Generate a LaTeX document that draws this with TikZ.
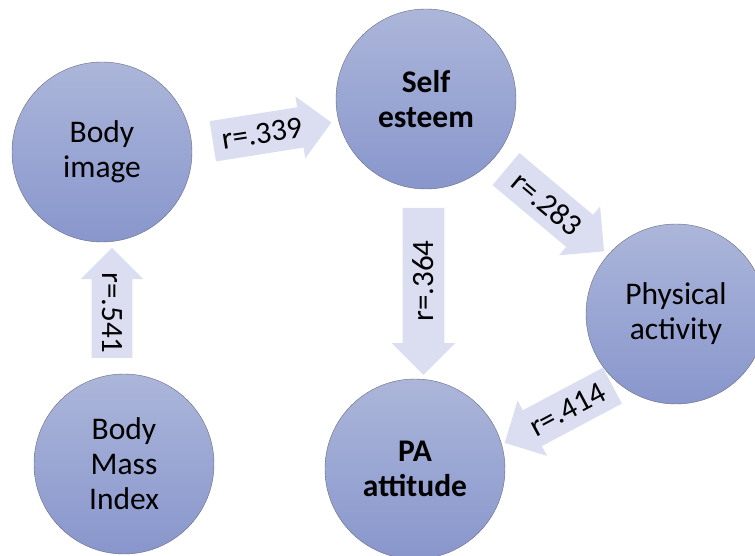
\documentclass[tikz,border=0pt]{standalone}
\usepackage{fontspec}
\setmainfont{Carlito}
\usetikzlibrary{shapes.arrows,calc}
\definecolor{circtop}{RGB}{172,182,218}
\definecolor{circbot}{RGB}{136,150,204}
\definecolor{circline}{RGB}{105,108,122}
\definecolor{arrfill}{RGB}{218,222,240}

\begin{document}
\begin{tikzpicture}[x=1pt,y=-1pt,
    var/.style={circle,draw=circline,thin,top color=circtop,bottom color=circbot,
      minimum size=180pt,inner sep=0pt,align=center,font=\fontsize{31.5}{35}\selectfont},
    keyvar/.style={var,font=\fontsize{31.5}{35}\selectfont\bfseries},
    corr/.style={single arrow,fill=arrfill,inner xsep=4pt,inner ysep=10pt,
      single arrow head extend=11pt,single arrow head indent=0pt,
      font=\fontsize{31}{31}\selectfont}]
       \useasboundingbox(0,0)rectangle(755,556);%画面

       \node[var](bimg)at(102,152){Body\\image};%体型
       \node[keyvar](self)at(426,99){Self\\esteem};%自尊
       \node[var](phys)at(676,314){Physical\\activity};%身体活動
       \node[keyvar](att)at(415,469){PA\\attitude};%態度
       \node[var](bmi)at(124,464){Body\\Mass\\Index};%BMI

       \node[corr,rotate=9,minimum height=120pt](bi2se)
           at($(bimg)!0.5!(self)+(-2,8)$){r=.339};%体型→自尊
       \node[corr,rotate=-40,minimum height=128pt](se2pa)
           at($(self)!0.5!(phys)+(-4,-3)$){r=.283};%自尊→身体活動
       \node[corr,rotate=90,shape border rotate=180,minimum height=167pt](se2at)
           at($(self)!0.5!(att)+(3,-3)$){r=.364};%自尊→態度
       \node[corr,rotate=28,shape border rotate=180,minimum height=122pt](pa2at)
           at($(phys)!0.5!(att)+(22,18)$){r=.414};%身体活動→態度
       \node[corr,rotate=-90,shape border rotate=180,minimum height=110pt](bm2bi)
           at($(bimg)!0.5!(bmi)+(-1,5)$){r=.541};%BMI→体型

      \end{tikzpicture}
\end{document}
